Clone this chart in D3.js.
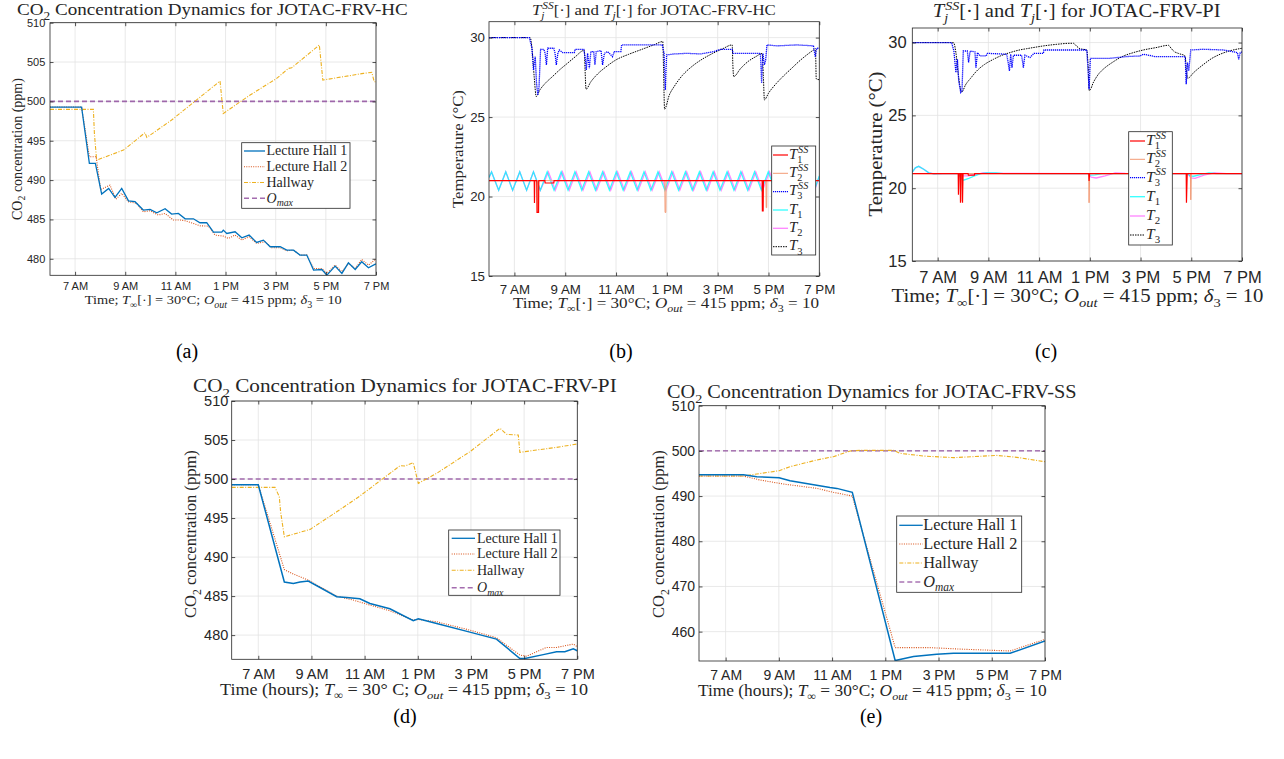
<!DOCTYPE html>
<html>
<head>
<meta charset="utf-8">
<script src="https://cdn.jsdelivr.net/npm/d3@7"></script>
<style>
body{margin:0;background:#fff;}
svg{display:block;}
text{font-family:"Liberation Serif","Times New Roman",serif;fill:#262626;}
.tick text{font-family:"Liberation Sans",Arial,sans-serif;}
</style>
</head>
<body>
<svg id="fig" width="1284" height="759"></svg>
<script>
// ---- shared axis values ----
var xTickHours=[7,9,11,13,15,17,19];
var xTickLabels=["7 AM","9 AM","11 AM","1 PM","3 PM","5 PM","7 PM"];
var co2Ticks=[480,485,490,495,500,505,510];
var ssTicks=[460,470,480,490,500,510];
var tempTicks=[15,20,25,30];
var oMax=500;

// ---- (a) CO2, JOTAC-FRV-HC  [hour, ppm] ----
var hcHall1=[[6,499.28],[7.26,499.28],[7.57,492.12],[7.81,492.12],[8.06,488.22],[8.34,488.94],[8.59,487.80],[8.86,488.94],[9.13,487.37],[9.39,487.25],[9.72,486.19],[9.99,486.27],[10.26,485.85],[10.59,486.36],[10.85,485.68],[11.12,485.76],[11.39,485.08],[11.72,485.08],[11.98,484.58],[12.25,484.58],[12.52,483.39],[12.85,483.39],[12.91,483.64],[13.05,483.22],[13.38,483.43],[13.65,482.67],[13.94,483.01],[14.24,482.08],[14.51,482.37],[14.78,481.53],[15.18,481.53],[15.44,481.10],[15.71,481.10],[15.97,480.47],[16.24,480.47],[16.51,478.56],[16.84,478.64],[17.04,477.92],[17.37,479.07],[17.64,478.14],[17.90,479.49],[18.17,478.64],[18.43,479.62],[18.70,478.86],[18.97,479.32],[19,479.32]];
var hcHall2=[[6,499.28],[7.26,499.28],[7.57,492.97],[7.84,492.97],[8.02,488.81],[8.39,489.36],[8.63,487.58],[8.86,488.31],[9.13,487.25],[9.46,487.03],[9.72,485.97],[9.99,486.10],[10.32,485.55],[10.59,485.76],[10.92,484.92],[11.19,484.92],[11.39,484.83],[11.72,484.49],[11.98,484.19],[12.32,484.15],[12.58,483.01],[12.91,482.88],[13.11,482.58],[13.38,483.01],[13.65,482.37],[13.94,482.80],[14.24,481.95],[14.58,482.16],[14.84,481.40],[15.18,481.40],[15.44,481.02],[15.71,481.10],[15.97,480.47],[16.24,480.47],[16.51,478.77],[16.84,478.77],[17.04,478.14],[17.37,479.19],[17.64,478.35],[17.90,479.41],[18.17,478.77],[18.43,479.92],[18.70,479.19],[18.97,479.92],[19,479.92]];
var hcHallway=[[6,498.98],[7.73,498.98],[7.77,495.93],[7.86,492.54],[8.93,493.81],[9.79,496.02],[9.86,495.42],[10.85,497.63],[12.78,502.58],[12.91,498.47],[13.98,500.81],[15.04,502.92],[15.51,504.19],[15.64,504.28],[16.74,507.16],[16.88,502.71],[17.70,503.14],[18.50,503.56],[18.83,503.69],[18.93,502.50],[19,502.50]];

// ---- (b) temperatures, JOTAC-FRV-HC  [hour, degC] ----
var hcT1ss=[[6,21],[7.78,21],[7.79,19.6],[7.80,21],[7.88,21],[7.89,19.0],[7.95,19.0],[7.96,21],[8.20,21],[8.21,20.85],[8.55,20.85],[8.56,21],[16.75,21],[16.76,19.1],[16.79,19.1],[16.80,21],[19,21]];
var hcT2ss=[[6,21],[7.90,21],[7.91,19.0],[7.94,19.0],[7.95,21],[12.92,21],[12.93,19.0],[12.96,19.0],[12.97,21],[16.90,21],[16.91,19.3],[16.93,19.3],[16.94,21],[19,21]];
var hcT3ss=[[6,30],[7.59,30],[7.69,29.33],[7.75,27.97],[7.82,28.80],[7.87,27.13],[7.92,26.40],[7.97,26.92],[8.03,29.26],[8.16,29.26],[8.21,29.01],[8.26,28.28],[8.31,29.33],[8.55,29.33],[8.60,29.01],[8.65,28.28],[8.71,29.01],[8.77,29.22],[8.90,29.06],[9.36,29.06],[9.39,29.26],[9.73,29.26],[9.78,28.80],[9.83,27.97],[9.88,29.01],[9.95,28.07],[10.01,29.12],[10.12,29.12],[10.17,28.28],[10.22,29.12],[10.41,29.18],[10.47,28.28],[10.54,29.01],[10.67,29.12],[10.86,28.80],[10.93,29.12],[11.19,29.12],[11.22,29.54],[12.82,29.54],[12.89,29.01],[12.94,26.71],[12.99,28.91],[13.28,28.97],[13.80,29.01],[14.33,28.97],[14.85,29.12],[15.11,29.26],[15.57,29.26],[15.61,29.01],[16.68,29.01],[16.73,27.13],[16.78,29.01],[16.84,28.28],[16.89,28.59],[16.94,29.54],[17.33,29.48],[18.12,29.54],[18.77,29.48],[18.84,28.80],[18.90,29.33],[19,29.33]];
var hcT1=[[6.00,21.20],[6.10,21.55],[6.38,20.40],[6.66,21.55],[6.93,20.40],[7.21,21.55],[7.48,20.40],[7.75,21.55],[8.02,20.40],[8.29,21.55],[8.56,20.40],[8.84,21.55],[9.11,20.40],[9.38,21.55],[9.65,20.40],[9.92,21.55],[10.19,20.40],[10.47,21.55],[10.74,20.40],[11.01,21.55],[11.28,20.40],[11.56,21.55],[11.83,20.40],[12.10,21.55],[12.37,20.40],[12.65,21.55],[12.92,20.40],[13.19,21.55],[13.46,20.40],[13.73,21.55],[14.00,20.40],[14.28,21.55],[14.55,20.40],[14.82,21.55],[15.09,20.40],[15.37,21.55],[15.64,20.40],[15.91,21.55],[16.18,20.40],[16.45,21.55],[16.72,20.40],[16.99,21.55],[17.26,20.40],[17.54,21.55],[17.81,20.40],[18.08,21.55],[18.35,20.40],[18.55,21.55],[18.80,20.40],[19.00,21.30]];
var hcT2=[[6.00,21.20],[6.10,21.55],[6.38,20.40],[6.66,21.55],[6.93,20.40],[7.21,21.55],[7.48,20.40],[7.75,21.55],[8.02,20.40],[8.34,21.55],[8.61,20.40],[8.89,21.55],[9.16,20.40],[9.43,21.55],[9.70,20.40],[9.97,21.55],[10.24,20.40],[10.52,21.55],[10.79,20.40],[11.06,21.55],[11.33,20.40],[11.61,21.55],[11.88,20.40],[12.15,21.55],[12.42,20.40],[12.70,21.55],[12.97,20.40],[13.24,21.55],[13.51,20.40],[13.78,21.55],[14.05,20.40],[14.33,21.55],[14.60,20.40],[14.87,21.55],[15.14,20.40],[15.42,21.55],[15.69,20.40],[15.96,21.55],[16.23,20.40],[16.50,21.55],[16.77,20.40],[17.04,21.55],[17.31,20.40],[17.59,21.55],[17.86,20.40],[18.13,21.55],[18.40,20.40],[18.60,21.55],[18.82,20.40],[19.00,21.25]];
var hcT3=[[6,30],[7.62,30],[7.70,29.2],[7.78,27.5],[7.86,26.29],[8.0,26.7],[8.2,27.1],[8.5,27.55],[8.8,28.0],[9.1,28.4],[9.4,28.8],[9.75,29.2],[9.78,28.0],[9.82,26.75],[10.0,27.2],[10.3,27.75],[10.6,28.15],[11.0,28.6],[11.5,28.95],[12.0,29.25],[12.5,29.55],[12.84,29.75],[12.87,28.0],[12.91,25.5],[13.1,26.4],[13.3,26.95],[13.6,27.6],[14.0,28.2],[14.4,28.65],[14.8,29.0],[15.2,29.3],[15.57,29.54],[15.60,28.2],[15.63,27.55],[15.9,28.05],[16.2,28.5],[16.5,28.8],[16.75,29.0],[16.80,27.5],[16.84,26.08],[17.0,26.5],[17.3,27.1],[17.6,27.6],[17.9,28.05],[18.2,28.5],[18.5,28.9],[18.8,29.25],[18.85,29.3],[18.88,27.4],[19.0,27.35]];

// ---- (c) temperatures, JOTAC-FRV-PI  [hour, degC] ----
var piT1ss=[[6,21],[7.81,21],[7.82,19.55],[7.84,21],[7.89,21],[7.90,19.0],[7.92,21],[7.97,21],[7.98,19.0],[8.0,21],[8.20,21],[8.21,20.9],[8.45,20.9],[8.46,21],[12.96,21],[12.97,20.5],[12.99,21],[16.80,21],[16.81,19.0],[16.84,21],[19,21]];
var piT2ss=[[6,21],[7.96,21],[7.97,19.1],[7.99,21],[12.96,21],[12.97,19.0],[12.99,21],[16.97,21],[16.98,19.2],[17.0,21],[19,21]];
var piT3ss=[[6,30],[7.55,30],[7.64,29.42],[7.72,27.94],[7.78,28.85],[7.83,27.37],[7.91,26.57],[7.96,26.68],[8.01,29.42],[8.17,29.42],[8.22,28.63],[8.28,29.42],[8.47,29.36],[8.51,28.28],[8.57,29.31],[8.67,29.08],[8.91,29.08],[8.96,29.26],[9.72,29.20],[9.78,28.63],[9.83,28.05],[9.88,29.20],[9.93,28.28],[9.99,29.13],[10.31,29.13],[10.38,28.28],[10.44,29.13],[10.64,28.97],[10.80,29.26],[11.17,29.26],[11.19,29.49],[12.88,29.49],[12.92,28.40],[12.97,26.80],[13.02,28.92],[13.80,28.92],[14.46,29.04],[14.98,29.08],[15.11,29.20],[15.57,29.04],[16.76,29.04],[16.80,27.14],[16.85,28.63],[16.90,28.05],[16.98,29.49],[17.48,29.54],[18.27,29.49],[18.82,29.31],[18.87,28.85],[18.93,29.31],[19,29.36]];
var piT1=[[6,21.1],[6.12,21.4],[6.25,21.5],[6.45,21.3],[6.65,21.05],[6.85,20.98],[7.2,21.0],[7.82,21.0],[7.92,20.7],[8.02,20.55],[8.2,20.65],[8.45,20.85],[8.7,21.0],[8.93,21.05],[9.3,21.05],[9.6,21.0],[12.92,21.0],[13.0,20.9],[13.2,20.92],[13.5,21.0],[16.85,21.0],[16.95,20.85],[17.1,20.82],[17.4,20.95],[17.7,21.05],[18.0,21.0],[19,21.0]];
var piT2=[[6,21.1],[6.12,21.4],[6.25,21.5],[6.45,21.3],[6.65,21.05],[6.85,20.98],[7.2,21.0],[7.9,21.0],[8.0,20.85],[8.2,20.85],[8.5,20.95],[8.8,21.05],[9.2,21.02],[12.93,21.0],[13.05,20.75],[13.25,20.7],[13.6,20.85],[14.0,21.05],[14.4,21.02],[16.88,21.0],[16.98,20.7],[17.15,20.68],[17.5,20.9],[17.9,21.05],[18.4,21.0],[19,21.0]];
var piT3=[[6,30],[7.62,30],[7.72,29.3],[7.8,28.0],[7.95,26.6],[8.1,27.1],[8.3,27.55],[8.54,28.05],[8.85,28.5],[9.2,28.85],[9.5,29.1],[9.85,29.31],[10.2,29.48],[10.51,29.58],[10.85,29.68],[11.17,29.77],[11.7,29.88],[12.22,29.95],[12.35,29.95],[12.48,29.75],[12.61,29.58],[12.88,29.49],[12.93,28.5],[12.98,26.7],[13.15,27.3],[13.35,27.85],[13.53,28.17],[13.9,28.65],[14.33,29.08],[14.7,29.3],[15.11,29.49],[15.6,29.65],[16.1,29.81],[16.2,29.62],[16.3,29.42],[16.5,29.25],[16.76,29.08],[16.8,28.2],[16.86,27.55],[17.1,27.95],[17.49,28.51],[17.8,28.9],[18.14,29.2],[18.5,29.42],[19.0,29.61]];

// ---- (d) CO2, JOTAC-FRV-PI ----
var piHall1=[[6,499.27],[7.0,499.27],[7.98,486.8],[8.32,486.62],[8.57,486.8],[8.88,486.92],[9.95,484.92],[10.32,484.83],[10.82,484.66],[11.2,484.06],[11.95,483.38],[12.83,481.84],[13.02,482.09],[13.71,481.5],[14.96,480.38],[15.96,479.49],[16.84,477.0],[17.03,477.0],[17.72,477.5],[18.22,477.86],[18.53,477.86],[18.85,478.25],[19.0,478.0]];
var piHall2=[[6,499.27],[7.0,499.27],[7.98,488.4],[8.32,487.82],[8.88,487.05],[9.95,485.0],[10.57,484.49],[11.2,483.85],[11.95,483.12],[12.83,481.92],[13.02,482.0],[13.71,481.71],[14.96,480.64],[15.96,479.66],[16.84,477.44],[17.09,477.3],[17.84,478.42],[18.22,478.42],[18.85,478.85],[19.0,478.5]];
var piHallway=[[6,498.93],[7.63,498.93],[7.79,497.74],[7.84,495.8],[7.98,492.6],[8.95,493.55],[9.95,495.8],[10.82,497.82],[12.33,501.7],[12.52,501.67],[12.83,502.09],[13.02,499.44],[13.71,500.73],[14.96,503.5],[16.09,506.5],[16.34,505.73],[16.78,505.64],[16.84,503.42],[17.47,503.72],[18.22,504.06],[19.0,504.49]];

// ---- (e) CO2, JOTAC-FRV-SS ----
var ssHall1=[[6,494.73],[7.67,494.7],[8.17,494.3],[9.01,494.07],[9.42,493.4],[10.42,492.37],[10.92,491.9],[11.18,491.7],[11.76,490.83],[13.37,453.6],[14.06,454.47],[14.93,454.98],[15.56,455.2],[16.31,455.2],[17.69,455.2],[19.0,457.93]];
var ssHall2=[[6,494.44],[7.67,494.44],[8.29,493.56],[9.17,492.67],[10.42,491.71],[11.05,490.83],[11.76,490.0],[13.37,456.46],[14.68,456.46],[15.94,456.1],[17.69,455.72],[19.0,458.3]];
var ssHallway=[[6,494.44],[7.67,494.44],[9.01,495.62],[9.42,496.5],[10.42,497.98],[11.05,498.72],[11.68,499.97],[12.05,500.12],[13.31,500.12],[13.56,499.45],[14.43,498.86],[15.56,498.5],[17.19,499.0],[17.94,498.57],[19.0,497.6]];

var svg=d3.select("#fig");

// text made of pieces: roman / italic / sub / sup / stacked sup+sub
function rich(parent,segs,o){
	var grp=parent.append("g")
		.attr("transform","translate("+o.x+","+o.y+")"+(o.rot?" rotate("+o.rot+")":""));
	var inner=grp.append("g");
	var fs=o.size, cx=0;
	function put(t,px,dy,size,it){
		var el=inner.append("text").attr("x",px).attr("y",dy).attr("font-size",size)
			.attr("font-style",it?"italic":"normal").text(t.replace(/ /g,"\u00A0"));
		return el.node().getComputedTextLength();
	}
	segs.forEach(function(s){
		if(s.t!==undefined){
			var small=s.sub||s.sup;
			var dy=s.sub?0.28*fs:(s.sup?-0.42*fs:0);
			cx+=put(s.t,cx,dy,small?0.7*fs:fs,s.it);
		}else{
			var w1=put(s.hi,cx+0.05*fs,-0.4*fs,0.68*fs,s.hiIt);
			var w2=put(s.lo,cx,0.26*fs,0.68*fs,s.loIt);
			cx+=Math.max(w1+0.05*fs,w2);
		}
	});
	var k=o.width?o.width/cx:1;
	var off=o.anchor==="start"?0:(o.anchor==="end"?-cx*k:-cx*k/2);
	inner.attr("transform","translate("+off+",0) scale("+k+",1)");
	return grp;
}

function panel(p){
	var x=d3.scaleLinear().domain([6,19]).range([p.left,p.right]);
	var y=d3.scaleLinear().domain(p.ydom).range([p.bottom,p.top]);
	var g=svg.append("g");
	var id="clip-"+p.name;
	svg.append("clipPath").attr("id",id).append("rect")
		.attr("x",p.left).attr("y",p.top).attr("width",p.right-p.left).attr("height",p.bottom-p.top);

	// grid
	g.append("g").selectAll("line").data(xTickHours).join("line")
		.attr("x1",x).attr("x2",x).attr("y1",p.top).attr("y2",p.bottom)
		.attr("stroke","#e3e3e3").attr("stroke-width",0.8);
	g.append("g").selectAll("line").data(p.yticks).join("line")
		.attr("y1",y).attr("y2",y).attr("x1",p.left).attr("x2",p.right)
		.attr("stroke","#e3e3e3").attr("stroke-width",0.8);

	// lines
	var lg=g.append("g").attr("clip-path","url(#"+id+")");
	p.series.forEach(function(s){
		var line=d3.line().curve(s.smooth?d3.curveMonotoneX:d3.curveLinear)
			.x(function(d){return x(d[0]);}).y(function(d){return y(d[1]);});
		lg.append("path").datum(s.data)
			.attr("d",line)
			.attr("fill","none")
			.attr("stroke",s.color)
			.attr("stroke-width",s.w)
			.attr("stroke-dasharray",s.dash||null)
			.attr("opacity",s.op||1);
	});

	// axes, ticks inside on all four sides
	var t=p.tick;
	var fmt=function(d){return xTickLabels[xTickHours.indexOf(d)];};
	g.append("g").attr("transform","translate(0,"+p.bottom+")")
		.call(d3.axisBottom(x).tickValues(xTickHours).tickFormat(fmt).tickSizeInner(-t).tickSizeOuter(0).tickPadding(p.xpad));
	g.append("g").attr("transform","translate(0,"+p.top+")")
		.call(d3.axisTop(x).tickValues(xTickHours).tickFormat("").tickSizeInner(-t).tickSizeOuter(0));
	g.append("g").attr("transform","translate("+p.left+",0)")
		.call(d3.axisLeft(y).tickValues(p.yticks).tickFormat(d3.format("d")).tickSizeInner(-t).tickSizeOuter(0).tickPadding(p.ypad));
	g.append("g").attr("transform","translate("+p.right+",0)")
		.call(d3.axisRight(y).tickValues(p.yticks).tickFormat("").tickSizeInner(-t).tickSizeOuter(0));
	g.selectAll(".domain").remove();
	g.selectAll(".tick line").attr("stroke","#262626").attr("stroke-width",0.8);
	g.selectAll(".tick text").style("font-family","'Liberation Sans',Arial,sans-serif")
		.style("font-size",p.fs+"px").style("fill","#262626");
	g.append("rect").attr("x",p.left).attr("y",p.top)
		.attr("width",p.right-p.left).attr("height",p.bottom-p.top)
		.attr("fill","none").attr("stroke","#262626").attr("stroke-width",0.8);
	return g;
}

function legend(items,L){
	var g=svg.append("g");
	g.append("rect").attr("x",L.x0).attr("y",L.y0).attr("width",L.x1-L.x0).attr("height",L.y1-L.y0)
		.attr("fill","#fff").attr("stroke","#262626").attr("stroke-width",0.8);
	items.forEach(function(it,i){
		var yy=L.rows[i];
		g.append("line").attr("x1",L.lx0).attr("x2",L.lx1).attr("y1",yy).attr("y2",yy)
			.attr("stroke",it.color).attr("stroke-width",it.w).attr("stroke-dasharray",it.dash||null)
			.attr("opacity",it.op||1);
		rich(g,it.label,{x:L.tx,y:yy+(L.shift||0.3)*L.size,size:L.size,anchor:"start"});
	});
}

// series styles
var stLH1={color:"#0072BD",w:1.3};
var stLH2={color:"#D95319",w:1.1,dash:"1,1.3"};
var stHall={color:"#EDB120",w:1.1,dash:"4,1.5,1,1.5"};
var stOmax={color:"#7E2F8E",w:1.6,dash:"5,3",op:0.7};
var stT1ss={color:"#FF0000",w:1.2};
var stT2ss={color:"#F39A75",w:1};
var stT3ss={color:"#0000FF",w:1.3,dash:"1.2,0.8"};
var stT1={color:"#00FFFF",w:1.3,op:0.8};
var stT2={color:"#FF66FF",w:1.3,op:0.8};
var stT3={color:"#000000",w:1,dash:"1.5,1",smooth:1};

function withData(st,data){return Object.assign({},st,{data:data});}
function omaxLine(){return [[6,oMax],[19,oMax]];}

var lblLH1=[{t:"Lecture Hall 1"}], lblLH2=[{t:"Lecture Hall 2"}], lblHall=[{t:"Hallway"}];
var lblOmax=[{t:"O",it:1},{t:"max",sub:1,it:1}];
var lblT1ss=[{t:"T",it:1},{hi:"SS",lo:"1",hiIt:1}];
var lblT2ss=[{t:"T",it:1},{hi:"SS",lo:"2",hiIt:1}];
var lblT3ss=[{t:"T",it:1},{hi:"SS",lo:"3",hiIt:1}];
var lblT1=[{t:"T",it:1},{t:"1",sub:1}];
var lblT2=[{t:"T",it:1},{t:"2",sub:1}];
var lblT3=[{t:"T",it:1},{t:"3",sub:1}];

function co2Title(name){return [{t:"CO"},{t:"2",sub:1},{t:" Concentration Dynamics for JOTAC-FRV-"+name}];}
function tempTitle(name){return [{t:"T",it:1},{hi:"SS",lo:"j",hiIt:1,loIt:1},{t:"[·] and "},{t:"T",it:1},{t:"j",sub:1,it:1},{t:"[·] for JOTAC-FRV-"+name}];}
var co2YLabel=[{t:"CO"},{t:"2",sub:1},{t:" concentration (ppm)"}];
var tempYLabel=[{t:"Temperature (°C)"}];
function tail(){return [{t:"O",it:1},{t:"out",sub:1,it:1},{t:" = 415 ppm; "},{t:"δ",it:1},{t:"3",sub:1},{t:" = 10"}];}
var xLabelShort=[{t:"Time; "},{t:"T",it:1},{t:"∞",sub:1},{t:"[·] = 30°C; "}].concat(tail());
var xLabelD=[{t:"Time (hours); "},{t:"T",it:1},{t:"∞",sub:1},{t:" = 30° C; "}].concat(tail());
var xLabelE=[{t:"Time (hours); "},{t:"T",it:1},{t:"∞",sub:1},{t:" = 30°C; "}].concat(tail());

// ---------- (a) ----------
panel({name:"a",left:50,right:376,top:22.7,bottom:275.3,ydom:[477.9,510],yticks:co2Ticks,
	fs:11,xpad:6.7,ypad:4.7,tick:3.5,
	series:[withData(stOmax,omaxLine()),withData(stHall,hcHallway),withData(stLH2,hcHall2),withData(stLH1,hcHall1)]});
legend([Object.assign({label:lblLH1},stLH1),Object.assign({label:lblLH2},stLH2),Object.assign({label:lblHall},stHall),Object.assign({label:lblOmax},stOmax)],
	{x0:241.7,y0:142.7,x1:350,y1:208.3,lx0:244,lx1:265,tx:266.5,size:14,rows:[151,166.7,182.5,198.3]});
rich(svg,co2Title("HC"),{x:212.5,y:15,size:17,width:391});
rich(svg,xLabelShort,{x:213.3,y:304,size:13.5,width:257});
rich(svg,co2YLabel,{x:21.5,y:149,size:14,width:142,rot:-90});

// ---------- (b) ----------
panel({name:"b",left:489,right:819.3,top:21.7,bottom:276,ydom:[15,31],yticks:tempTicks,
	fs:13.3,xpad:8.5,ypad:4,tick:3.5,
	series:[withData(stT2,hcT2),withData(stT1,hcT1),withData(stT2ss,hcT2ss),withData(stT1ss,hcT1ss),withData(stT3,hcT3),withData(stT3ss,hcT3ss)]});
legend([Object.assign({label:lblT1ss},stT1ss),Object.assign({label:lblT2ss},stT2ss),Object.assign({label:lblT3ss},stT3ss),
	Object.assign({label:lblT1},stT1),Object.assign({label:lblT2},stT2),Object.assign({label:lblT3},stT3)],
	{x0:771.7,y0:146,x1:815.7,y1:255,lx0:773,lx1:788,tx:789,size:15,shift:0.25,rows:[155,173.3,191.7,210,228.3,246.7]});
rich(svg,tempTitle("HC"),{x:654,y:15,size:15.5,width:244});
rich(svg,xLabelShort,{x:666,y:307.5,size:15,width:306});
rich(svg,tempYLabel,{x:462.7,y:149,size:15.5,width:118,rot:-90});

// ---------- (c) ----------
panel({name:"c",left:912.3,right:1242,top:28,bottom:261,ydom:[15,31],yticks:tempTicks,
	fs:16.5,xpad:10.5,ypad:5.6,tick:3.5,
	series:[withData(stT2,piT2),withData(stT1,piT1),withData(stT2ss,piT2ss),withData(stT1ss,piT1ss),withData(stT3,piT3),withData(stT3ss,piT3ss)]});
legend([Object.assign({label:lblT1ss},stT1ss),Object.assign({label:lblT2ss},stT2ss),Object.assign({label:lblT3ss},stT3ss),
	Object.assign({label:lblT1},stT1),Object.assign({label:lblT2},stT2),Object.assign({label:lblT3},stT3)],
	{x0:1128.7,y0:131.7,x1:1172.3,y1:245,lx0:1130,lx1:1145,tx:1146,size:15.5,shift:0.25,rows:[141,159.3,177.7,196.7,216,235]});
rich(svg,tempTitle("PI"),{x:1076.7,y:17.3,size:18,width:288});
rich(svg,xLabelShort,{x:1077.5,y:301.7,size:18,width:372});
rich(svg,tempYLabel,{x:881.7,y:144,size:19,width:145,rot:-90});

// ---------- (d) ----------
panel({name:"d",left:231.7,right:577.3,top:401,bottom:659.3,ydom:[476.9,510],yticks:co2Ticks,
	fs:14.5,xpad:9,ypad:3.4,tick:3.5,
	series:[withData(stOmax,omaxLine()),withData(stHall,piHallway),withData(stLH2,piHall2),withData(Object.assign({},stLH1,{w:1.5}),piHall1)]});
legend([Object.assign({label:lblLH1},stLH1),Object.assign({label:lblLH2},stLH2),Object.assign({label:lblHall},stHall),Object.assign({label:lblOmax},stOmax)],
	{x0:448.7,y0:530,x1:560,y1:595.3,lx0:451.7,lx1:475,tx:477,size:14,rows:[538.3,554,570.3,587.7]});
rich(svg,co2Title("PI"),{x:405,y:392,size:18.5,width:424});
rich(svg,xLabelD,{x:404,y:695,size:16,width:368});
rich(svg,co2YLabel,{x:196,y:534,size:16.5,width:168,rot:-90});

// ---------- (e) ----------
panel({name:"e",left:699,right:1045,top:405.7,bottom:661,ydom:[453.5,510],yticks:ssTicks,
	fs:14,xpad:9.3,ypad:4,tick:3.5,
	series:[withData(Object.assign({},stOmax,{w:1,op:1}),omaxLine()),withData(stHall,ssHallway),withData(stLH2,ssHall2),withData(Object.assign({},stLH1,{w:1.5}),ssHall1)]});
legend([Object.assign({label:lblLH1},stLH1),Object.assign({label:lblLH2},stLH2),Object.assign({label:lblHall},stHall),Object.assign({label:lblOmax},stOmax,{w:1,op:1})],
	{x0:896.7,y0:516,x1:1021.7,y1:592.3,lx0:899.3,lx1:922.7,tx:923.3,size:16.3,rows:[525.3,544,563,582]});
rich(svg,co2Title("SS"),{x:872,y:398,size:18,width:410});
rich(svg,xLabelE,{x:872.3,y:696,size:16,width:348.7});
rich(svg,co2YLabel,{x:664.3,y:534,size:16.5,width:168,rot:-90});

// captions
[["(a)",187,358],["(b)",621,358],["(c)",1046,358],["(d)",405,723],["(e)",871,723]].forEach(function(c){
	svg.append("text").attr("x",c[1]).attr("y",c[2]).attr("text-anchor","middle")
		.attr("font-size",20).style("fill","#000").text(c[0]);
});
</script>
</body>
</html>
